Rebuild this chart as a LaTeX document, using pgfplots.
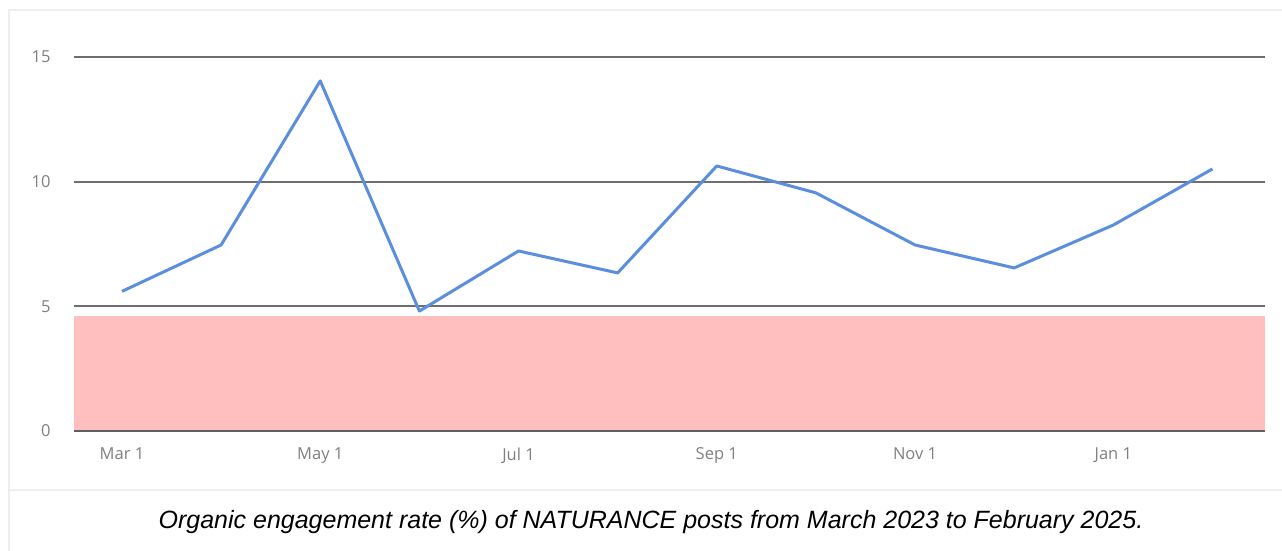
\documentclass[border=0pt]{standalone}
\usepackage{pgfplots}
\pgfplotsset{compat=1.18}
\usepackage{fontspec}
\setmainfont{Open Sans}
\newfontfamily\capfont{Liberation Sans}
\definecolor{linec}{HTML}{5B8FDE}
\definecolor{pinkc}{HTML}{FFBFBF}
\definecolor{gridc}{HTML}{6E6E6E}
\definecolor{tickc}{HTML}{808080}
\definecolor{framec}{HTML}{EEEEEE}
\begin{document}
\begin{tikzpicture}[x=1pt,y=1pt]
\useasboundingbox (0,0) rectangle (1282,551);
\fill[white] (0,0) rectangle (1282,551);
\draw[framec,line width=2pt] (9,0) -- (9,541) -- (1282,541);
\draw[framec,line width=2pt] (9,61) -- (1282,61);
\begin{axis}[
  at={(74pt,120pt)}, anchor=south west,
  scale only axis, width=1191pt, height=374pt,
  xmin=-0.484, xmax=11.53, ymin=0, ymax=15,
  axis line style={draw=none},
  xtick={0,2,4,6,8,10},
  xticklabels={Mar 1,May 1,Jul 1,Sep 1,Nov 1,Jan 1},
  ytick={0,5,10,15},
  tick style={draw=none},
  /pgf/number format/assume math mode=true,
  ticklabel style={font=\fontsize{16.5}{19}\selectfont, text=tickc},
  xticklabel style={yshift=-13pt},
  yticklabel style={anchor=east, xshift=-20pt},
  ymajorgrids, grid style={gridc, line width=1.8pt},
  clip=false,
]
\addplot[fill=pinkc, draw=none] coordinates {(-0.484,0) (11.53,0) (11.53,4.6) (-0.484,4.6)} -- cycle;
\addplot[gridc!85!black, line width=2pt] coordinates {(-0.484,0) (11.53,0)};
\addplot[linec, line width=3pt, line join=round] coordinates {
(0,5.6) (1,7.46) (2,14.04) (3,4.81) (4,7.22) (5,6.34) (6,10.63) (7,9.55) (8,7.46) (9,6.54) (10,8.26) (11,10.51)};
\end{axis}
\node[font=\capfont\itshape\fontsize{25}{30}\selectfont] at (651,29) {Organic engagement rate (\%) of NATURANCE posts from March 2023 to February 2025.};
\end{tikzpicture}
\end{document}
